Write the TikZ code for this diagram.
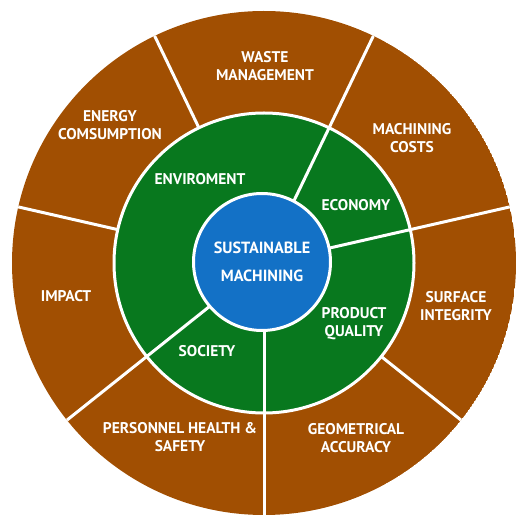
\documentclass[tikz,border=0pt]{standalone}
\usepackage{fontspec}
\setmainfont{PT Sans}
\usetikzlibrary{positioning}
\definecolor{rim}{HTML}{A14F02}
\definecolor{leaf}{HTML}{08781E}
\definecolor{hub}{HTML}{1371C6}
\begin{document}
\begin{tikzpicture}[x=1pt,y=1pt,
   lbl/.style={text=white,font=\bfseries\fontsize{15.5}{18}\selectfont,align=center,inner sep=0pt},
   cut/.style={white,line width=3pt}]
   \useasboundingbox (0,0) rectangle (528,528);
   \coordinate (c) at (264,265);
   \begin{scope}
      \clip (c) circle (252);
      \fill[rim] (c) circle (252);
      \foreach \a in {0,...,6}
         \draw[cut] (c) -- ++(270+\a*360/7:260);
   \end{scope}
   \draw[cut,fill=leaf] (c) circle (150);
   \foreach \a in {12.857,64.286,218.571,270}
      \draw[cut] (c) -- ++(\a:150);
   \node[circle,fill=hub,draw=white,line width=3pt,minimum size=137pt] (hub) at (262,266) {};
   \node[lbl,font=\bfseries\fontsize{16.2}{28}\selectfont] (sm) at (hub) {SUSTAINABLE\\MACHINING};
   \node[lbl] (waste) at (265,462) {WASTE\\MANAGEMENT};
   \node[lbl] (energy) at (110,403) {ENERGY\\COMSUMPTION};
   \node[lbl] (env) at (200,349) {ENVIROMENT};
   \node[lbl] (costs) at (412,390) {MACHINING\\COSTS};
   \node[lbl] (eco) at (356,323) {ECONOMY};
   \node[lbl] (impact) at (66,232) {IMPACT};
   \node[lbl] (surf) at (456,222) {SURFACE\\INTEGRITY};
   \node[lbl] (qual) at (354,204) {PRODUCT\\QUALITY};
   \node[lbl] (soc) at (207,177) {SOCIETY};
   \node[lbl] (health) at (180,91) {PERSONNEL HEALTH \&\\SAFETY};
   \node[lbl] (geo) at (356,90) {GEOMETRICAL\\ACCURACY};
\end{tikzpicture}
\end{document}
